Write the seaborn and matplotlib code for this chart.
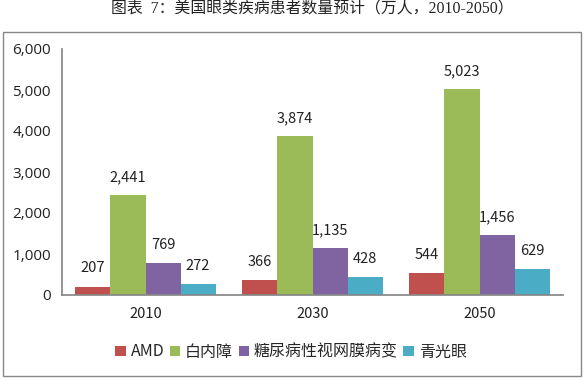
import pandas as pd
import seaborn as sns
import matplotlib.pyplot as plt
from matplotlib.patches import Rectangle

years = ['2010', '2030', '2050']
diseases = ['AMD', '白内障', '糖尿病性视网膜病变', '青光眼']
amd = [207, 366, 544]
cataract = [2441, 3874, 5023]
retinopathy = [769, 1135, 1456]
glaucoma = [272, 428, 629]
colors = ['#C0504D', '#9BBB59', '#8064A2', '#4BACC6']

df = pd.DataFrame({
    'year': years * 4,
    'disease': [d for d in diseases for _ in years],
    'value': amd + cataract + retinopathy + glaucoma,
})

sns.set_theme(style='white')
plt.rcParams['font.family'] = ['Noto Sans CJK SC', 'DejaVu Sans']

W, H = 584, 380
fig = plt.figure(figsize=(W / 100, H / 100), dpi=100)
ax = fig.add_axes([62 / W, 1 - 295 / H, (563 - 62) / W, (295 - 49) / H])

sns.barplot(data=df, x='year', y='value', hue='disease', hue_order=diseases,
            palette=colors, width=0.84, gap=0, saturation=1, linewidth=0, ax=ax)

ax.set_ylim(0, 6000)
ax.set_yticks(range(0, 6001, 1000))
ax.set_yticklabels([f'{v:,}' for v in range(0, 6001, 1000)], fontsize=11, color='#222222',
                   family=['Open Sans', 'DejaVu Sans'])
ax.tick_params(axis='y', length=0, pad=8)
ax.tick_params(axis='x', length=0, pad=9, labelsize=10.5, labelcolor='#222222')
ax.set_xlabel('')
ax.set_ylabel('')
sns.despine(ax=ax)
for side in ['left', 'bottom']:
    ax.spines[side].set_color('#888888')

for container in ax.containers:
    ax.bar_label(container, fmt='{:,.0f}', padding=8, fontsize=10.5, color='#222222')

handles, labels = ax.get_legend_handles_labels()
ax.legend(handles, labels, loc='center', bbox_to_anchor=(291 / W, 1 - 352 / H),
          bbox_transform=fig.transFigure, ncol=4, frameon=False, fontsize=11.5,
          handlelength=0.65, handleheight=0.65, handletextpad=0.3, columnspacing=0.35,
          borderpad=0)

# outer chart frame
fig.add_artist(Rectangle((3 / W, 1 - 376 / H), 578 / W, 344 / H, transform=fig.transFigure,
                         fill=False, edgecolor='#888888', linewidth=1))

fig.text(312 / W, 1 - 9 / H, '图表  7：美国眼类疾病患者数量预计（万人，2010-2050）',
         ha='center', va='center', fontsize=11.4, color='#222222',
         family=['Liberation Serif', 'Noto Sans CJK SC'])

fig.savefig('out.png', dpi=100)
